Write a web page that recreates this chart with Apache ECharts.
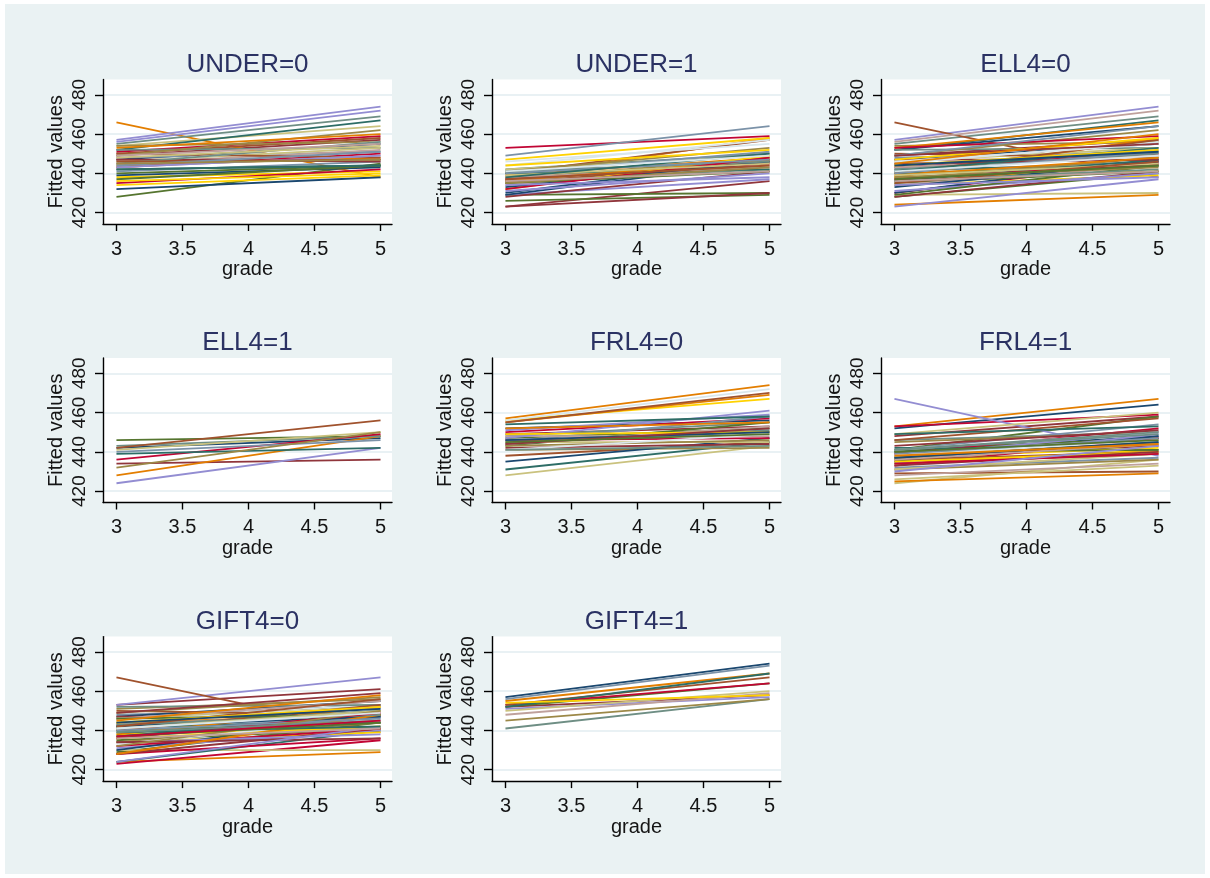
<!DOCTYPE html>
<html><head><meta charset="utf-8">
<script src="https://cdn.jsdelivr.net/npm/echarts@6/dist/echarts.min.js"></script>
<style>
html,body{margin:0;padding:0;background:#ffffff;}
#bg{position:absolute;left:5px;top:4px;width:1200px;height:870px;background:#eaf2f3;}
#chart{position:absolute;left:0;top:0;width:1210px;height:878px;}
</style></head><body><div id="bg"></div><div id="chart"></div>
<script>
// ---- data ----
const panelTitles = ['UNDER=0','UNDER=1','ELL4=0','ELL4=1','FRL4=0','FRL4=1','GIFT4=0','GIFT4=1'];
const gradeTicks = [3, 3.5, 4, 4.5, 5];
const scoreTicks = [420, 440, 460, 480];
const gradeFirst = 3;
const gradeLast = 5;

// fitted value at grade 3 (Start) and grade 5 (End), one entry per line
const under0Start = [447,449,428,466,455,451,457,454,450,448,452,454,445,438,446,432,447,440,444,452,443,456,446,450,441,442,449,443,434,445,439,447,437,453,445,435,443,448,446,444,442,445,449,436];
const under0End   = [455,457,445,438,469,459,474,464,458,451,467,456,452,441,453,438,447,444,448,453,450,472,453,448,446,444,462,449,439,456,443,446,444,460,456,442,449,454,447,451,444,447,455,440];

const under1Start = [430,423,429,438,442,453,429,442,440,449,436,437,434,447,446,429,428,426,439,436,437,431,441,435,440,440,441,438,432,444,433,423,435,436,441,432,434,439,437,440,438,435,436,444,441];
const under1End   = [447,436,430,458,450,459,437,449,457,464,447,448,444,458,455,446,441,429,448,442,445,440,446,446,451,442,453,443,449,457,446,430,441,447,446,448,438,445,444,447,450,443,441,452,449];

const ell0Start = [447,449,428,424,455,430,457,429,466,448,452,454,456,438,446,452,447,440,453,452,443,423,446,450,441,442,449,443,434,445,430,428,435,438,442,453,431,444,440,449,436,437,434,447,446,433,445,429,439,436,437,434,439,435,440,441,438,436,444,441,444,449,437,445];
const ell0End   = [455,457,440,429,469,446,474,430,438,451,467,456,472,441,453,464,447,444,466,453,450,437,453,448,446,444,462,449,439,456,447,441,441,458,450,459,440,452,457,464,447,448,444,458,455,446,447,444,448,442,445,438,445,446,451,453,443,441,452,449,451,455,444,460];

const ell1Start = [442,434,446,428,443,436,424,441,442,440,439,432];
const ell1End   = [447,436,448,448,448,449,442,450,456,446,442,450];

const frl0Start = [452,449,447,457,448,450,451,428,438,445,431,441,448,456,456,435,442,443,455,444,446,447,445,455,446,454,443,444,449,441,446,444,445,452,441];
const frl0End   = [456,453,452,474,455,457,459,443,445,458,445,442,448,467,472,447,444,455,469,451,447,461,445,470,450,458,446,453,450,449,450,452,449,455,443];

const frl1Start = [452,448,441,453,446,453,467,449,446,441,449,445,435,434,439,440,438,441,436,437,439,438,424,429,432,442,431,428,437,441,435,443,440,425,441,433,434,431,436,439,437,434,436,435,438,437,433,440,438,441,434,430,426];
const frl1End   = [464,458,458,467,450,459,438,460,457,454,453,450,446,441,447,448,443,447,444,446,452,450,436,430,437,441,436,434,442,450,448,451,441,429,450,447,449,439,440,447,445,439,444,440,446,445,440,446,444,449,439,443,433];

const gift0Start = [446,453,429,424,442,423,453,430,467,448,424,451,443,438,446,447,447,440,444,452,428,431,446,450,441,442,449,443,434,445,430,428,435,438,442,432,434,444,440,436,437,434,446,436,433,442,434,446,428,443,436,424,441,442,440,439,432,436,444,441,444,449,437,445,439,437];
const gift0End   = [453,461,444,429,450,435,467,430,439,451,440,456,449,441,453,455,447,444,448,453,436,440,452,448,446,444,457,449,439,452,447,441,441,452,450,441,438,452,453,447,448,444,455,442,446,447,436,448,448,448,449,442,450,456,446,442,450,441,452,449,451,459,444,458,445,445];

const gift1Start = [457,452,452,455,441,453,451,450,453,456,452,445,448,454];
const gift1End   = [474,458,464,469,456,464,457,460,467,473,469,456,459,458];

const panelStarts = [under0Start, under1Start, ell0Start, ell1Start, frl0Start, frl1Start, gift0Start, gift1Start];
const panelEnds   = [under0End, under1End, ell0End, ell1End, frl0End, frl1End, gift0End, gift1End];

// ---- style ----
const palette = ['#1a476f','#90353b','#55752f','#e37e00','#6e8e84','#c10534','#938dd2','#cac27e','#a0522d','#7b92a8','#2d6d66','#9c8847','#bfa19c','#ffd200','#d9e6eb'];
const FONT = 'Liberation Sans, Arial, sans-serif';
const colLeft = [103, 492, 881];
const rowTop = [79.5, 358, 636.6];
const gridW = 289, gridH = 144.5;
const xMin = 2.898, xMax = 5.087;
const yMin = 414.2, yMax = 487.8;

const grids = [], xAxes = [], yAxes = [], series = [];
for (let p = 0; p < 8; p++) {
  const r = Math.floor(p / 3), c = p % 3;
  grids.push({left: colLeft[c], top: rowTop[r], width: gridW, height: gridH,
    show: true, backgroundColor: '#ffffff', borderWidth: 0, containLabel: false, outerBoundsMode: 'none'});
  xAxes.push({type: 'value', gridIndex: p, position: 'bottom', min: xMin, max: xMax,
    axisLine: {show: true, onZero: false, lineStyle: {color: '#000', width: 1.4}},
    axisTick: {show: true, length: 7, customValues: gradeTicks, lineStyle: {color: '#000', width: 1.4}},
    axisLabel: {show: true, customValues: gradeTicks, margin: 15, fontSize: 20, color: '#151515', fontFamily: FONT,
      formatter: v => String(v)},
    splitLine: {show: false},
    name: 'grade', nameLocation: 'middle', nameGap: 31,
    nameTextStyle: {fontSize: 20, color: '#151515', fontFamily: FONT}});
  yAxes.push({type: 'value', gridIndex: p, min: yMin, max: yMax,
    axisLine: {show: true, onZero: false, lineStyle: {color: '#000', width: 1.4}},
    axisTick: {show: true, length: 8, customValues: scoreTicks, lineStyle: {color: '#000', width: 1.4}},
    axisLabel: {show: true, customValues: scoreTicks, rotate: 90, margin: 14, fontSize: 19, color: '#151515', fontFamily: FONT},
    splitLine: {show: true, lineStyle: {color: '#e2edf0', width: 1.6}},
    name: 'Fitted values', nameLocation: 'middle', nameRotate: 90, nameGap: 37,
    nameTextStyle: {fontSize: 20, color: '#151515', fontFamily: FONT}});
  const st = panelStarts[p], en = panelEnds[p];
  for (let i = 0; i < st.length; i++) {
    series.push({type: 'line', xAxisIndex: p, yAxisIndex: p, silent: true,
      symbol: 'none', showSymbol: false,
      data: [[gradeFirst, st[i]], [gradeLast, en[i]]],
      lineStyle: {color: palette[i % palette.length], width: 1.8}});
  }
}
// title axes on top of each panel
for (let p = 0; p < 8; p++) {
  xAxes.push({type: 'value', gridIndex: p, position: 'top', min: xMin, max: xMax,
    axisLine: {show: false}, axisTick: {show: false}, axisLabel: {show: false}, splitLine: {show: false},
    name: panelTitles[p], nameLocation: 'middle', nameGap: 2,
    nameTextStyle: {fontSize: 26, color: '#2b3263', fontFamily: FONT}});
}

const chart = echarts.init(document.getElementById('chart'), null, {renderer: 'canvas'});
chart.setOption({
  animation: false,
  backgroundColor: 'transparent',
  grid: grids, xAxis: xAxes, yAxis: yAxes, series: series
});
</script></body></html>
